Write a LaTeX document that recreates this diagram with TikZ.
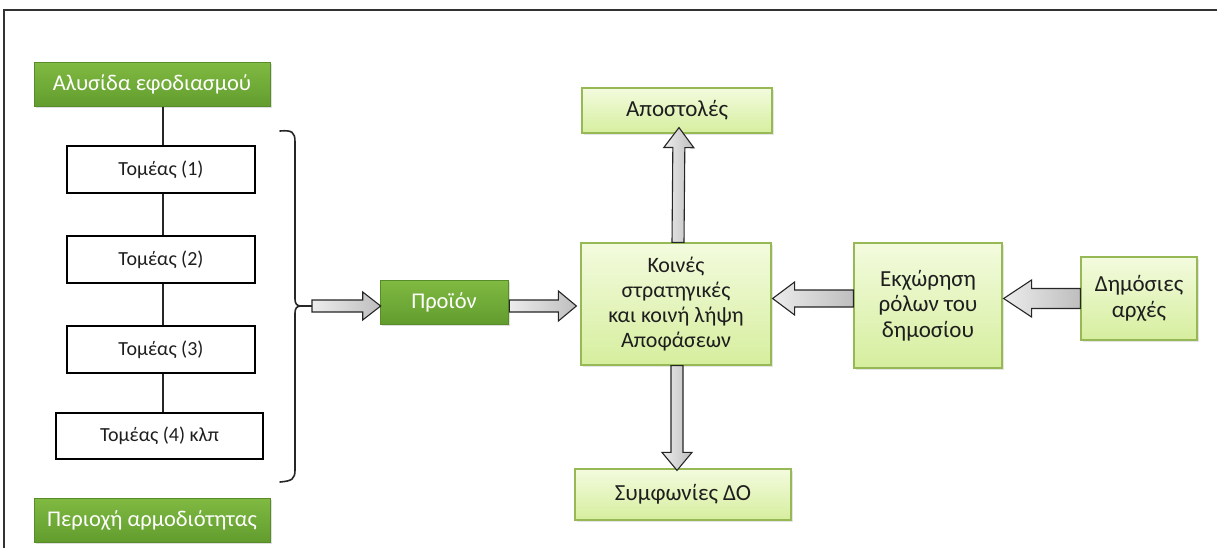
\documentclass[tikz,border=0pt]{standalone}
\usepackage{fontspec}
\setmainfont{Carlito}
\usetikzlibrary{calc,shadows}
\definecolor{gtop}{RGB}{128,186,66}
\definecolor{gbot}{RGB}{98,156,46}
\definecolor{ltop}{RGB}{243,251,222}
\definecolor{lbot}{RGB}{214,238,158}
\definecolor{lborder}{RGB}{150,185,85}
\definecolor{atop}{RGB}{236,236,236}
\definecolor{abot}{RGB}{190,190,190}
\definecolor{txt}{RGB}{30,30,30}
\definecolor{frame}{RGB}{50,50,50}
\tikzset{
  greenbox/.style={inner sep=0pt, top color=gtop, bottom color=gbot, draw=gbot!90!black, line width=0.6pt,
     text=white, font=\fontsize{22.5}{27}\selectfont,
     drop shadow={shadow xshift=1.5pt, shadow yshift=-2pt, opacity=0.25}},
  whitebox/.style={inner sep=0pt, draw=black, line width=1.4pt, fill=white, text=txt, font=\fontsize{20}{24}\selectfont},
  lightbox/.style={inner sep=0pt, top color=ltop, bottom color=lbot, draw=lborder, line width=1.2pt,
     text=txt, font=\fontsize{23}{25.5}\selectfont, align=center,
     drop shadow={shadow xshift=1.5pt, shadow yshift=-2pt, opacity=0.2}},
  barrow/.style={draw=black!85, line width=1.1pt, line join=miter, left color=atop, right color=abot},
  vbarrow/.style={draw=black!85, line width=1.1pt, line join=miter, top color=atop, bottom color=abot, shading angle=90},
  linkline/.style={line width=1.4pt, draw=black!85},
}
% #1 from, #2 to, #3 half shaft, #4 half head, #5 head length, #6 style
\newcommand\blockarr[6]{%
  \coordinate (ba-n) at ($(#2)!#5!(#1)$);
  \path[#6] ($(#1)!#3!90:(#2)$) -- ($(ba-n)!#3!90:(#2)$) -- ($(ba-n)!#4!90:(#2)$) -- (#2)
     -- ($(ba-n)!#4!-90:(#2)$) -- ($(ba-n)!#3!-90:(#2)$) -- ($(#1)!#3!-90:(#2)$) -- cycle;}
\begin{document}
\begin{tikzpicture}[x=1pt,y=-1pt]
\useasboundingbox (0,0) rectangle (1217,548);
\fill[white] (0,0) rectangle (1217,548);
% frame
\draw[frame, line width=2pt] (4,548) -- (4,10) -- (1217,10);

% left column
\node[greenbox, minimum width=236, minimum height=44] (alys) at (152,84.5) {Αλυσίδα εφοδιασμού};
\node[whitebox, minimum width=188, minimum height=47] (t1) at (161,169.5) {Τομέας (1)};
\node[whitebox, minimum width=188, minimum height=47] (t2) at (161,259.5) {Τομέας (2)};
\node[whitebox, minimum width=188, minimum height=47] (t3) at (161,349.5) {Τομέας (3)};
\node[whitebox, minimum width=207, minimum height=46] (t4) at (159.5,436) {Τομέας (4) κλπ};
\node[greenbox, minimum width=236, minimum height=44] (perioxi) at (152,520) {Περιοχή αρμοδιότητας};

\draw[linkline] ([xshift=2]t1.north) -- ([xshift=2]t1.north |- alys.south);
\draw[linkline] ([xshift=2]t2.north) -- ([xshift=2]t1.south);
\draw[linkline] ([xshift=2]t3.north) -- ([xshift=2]t2.south);
\draw[linkline] ([xshift=2]t4.north -| t3.south) -- ([xshift=2]t3.south);

% bracket
\coordinate (brtip) at (312,306);
\draw[line width=1.6pt, draw=black!85, line cap=round]
  (280,131) .. controls (292,130) and (295,132) .. (295,142) -- (295,299)
  .. controls (295,304) and (297,306) .. (301,306) -- (brtip)
  (301,306) .. controls (297,306) and (295,308) .. (295,313) -- (295,470)
  .. controls (295,479) and (292,481) .. (280,482);

% middle
\node[greenbox, minimum width=128, minimum height=44] (prod) at (444,302) {Προϊόν};
\node[lightbox, minimum width=190, minimum height=122, font=\fontsize{22}{25}\selectfont] (koin) at (676,304) {Κοινές\\στρατηγικές\\και κοινή λήψη\\Αποφάσεων};
\node[lightbox, minimum width=190, minimum height=45] (apost) at (677,110.5) {Αποστολές};
\node[lightbox, minimum width=216, minimum height=51] (symf) at (683,494.5) {Συμφωνίες ΔΟ};
\node[lightbox, minimum width=148, minimum height=125] (ekx) at (928,305.5) {Εκχώρηση\\ρόλων του\\δημοσίου};
\node[lightbox, minimum width=116, minimum height=83] (dim) at (1139,298.5) {Δημόσιες\\αρχές};

% block arrows
\coordinate (prodin) at ([xshift=1]prod.west |- brtip);
\blockarr{brtip}{prodin}{6pt}{14pt}{18pt}{barrow}
\coordinate (p1) at ([xshift=1]prod.east |- brtip);
\coordinate (p2) at ([xshift=-4]koin.west |- brtip);
\blockarr{p1}{p2}{6pt}{15pt}{18pt}{barrow}
\coordinate (k1) at ([xshift=2]koin.north);
\coordinate (k2) at ([xshift=2,yshift=6]apost.south);
\blockarr{k1}{k2}{6pt}{15pt}{20pt}{vbarrow}
\coordinate (k3) at ([xshift=1]koin.south);
\coordinate (k4) at ([xshift=-6,yshift=-2]symf.north);
\blockarr{k3}{k4}{6pt}{15pt}{18pt}{vbarrow}
\coordinate (e1) at (ekx.west |- dim.west);
\coordinate (e2) at ([xshift=1]koin.east |- dim.west);
\blockarr{e1}{e2}{8.5pt}{16.5pt}{22pt}{barrow}
\coordinate (d1) at (dim.west);
\coordinate (d2) at ([xshift=1]ekx.east |- dim.west);
\blockarr{d1}{d2}{10pt}{18.5pt}{28pt}{barrow}
\end{tikzpicture}
\end{document}
